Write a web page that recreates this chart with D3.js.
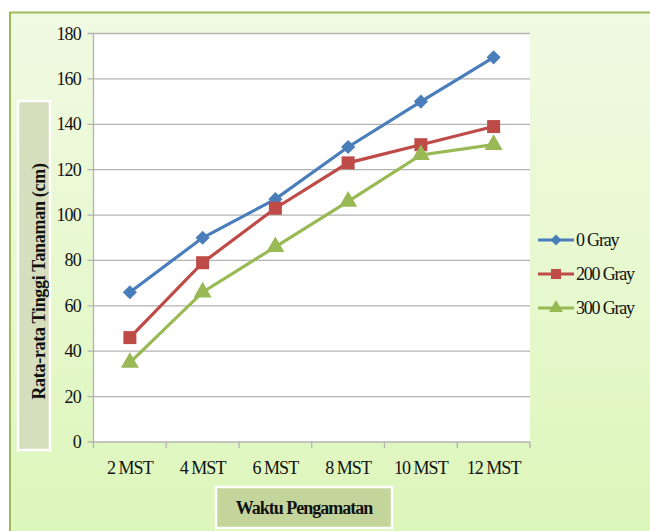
<!DOCTYPE html>
<html>
<head>
<meta charset="utf-8">
<script src="https://cdn.jsdelivr.net/npm/d3@7"></script>
<style>
  body { margin: 0; background: #fff; }
  svg text { font-family: "Liberation Serif", "Times New Roman", serif; }
</style>
</head>
<body>
<div id="chart"></div>
<script>
// Rata-rata tinggi tanaman per minggu
const categories = ["2 MST", "4 MST", "6 MST", "8 MST", "10 MST", "12 MST"];
const gray0 = [66, 90, 107, 130, 150, 169.5];
const gray200 = [46, 79, 103, 123, 131, 139];
const gray300 = [35, 66, 86, 106, 126.5, 131];
const seriesNames = ["0 Gray", "200 Gray", "300 Gray"];
const yTicks = [0, 20, 40, 60, 80, 100, 120, 140, 160, 180];

const W = 650, H = 531;
const plot = {left: 93.5, top: 33.5, right: 530, bottom: 442};

const svg = d3.select("#chart").append("svg")
  .attr("width", W).attr("height", H);

// background gradient
const defs = svg.append("defs");
const grad = defs.append("linearGradient").attr("id", "bg")
  .attr("x1", 0).attr("y1", 0).attr("x2", 0).attr("y2", 1);
grad.append("stop").attr("offset", "0%").attr("stop-color", "#f1fae3");
grad.append("stop").attr("offset", "100%").attr("stop-color", "#dcf6b9");

svg.append("rect")
  .attr("x", 10).attr("y", 12.5).attr("width", W + 10).attr("height", H + 10)
  .attr("fill", "url(#bg)")
  .attr("stroke", "#9bbb59").attr("stroke-width", 2);

const x = d3.scaleBand().domain(categories).range([plot.left, plot.right]);
const y = d3.scaleLinear().domain([0, 180]).range([plot.bottom, plot.top]);

// plot area
svg.append("rect")
  .attr("x", plot.left).attr("y", plot.top)
  .attr("width", plot.right - plot.left).attr("height", plot.bottom - plot.top)
  .attr("fill", "#fff");

// gridlines
svg.append("g").selectAll("line").data(yTicks).join("line")
  .attr("x1", plot.left - 6).attr("x2", plot.right)
  .attr("y1", d => y(d)).attr("y2", d => y(d))
  .attr("stroke", "#b3b3b3").attr("stroke-width", 1.3);

// y axis line
svg.append("line")
  .attr("x1", plot.left).attr("x2", plot.left)
  .attr("y1", plot.top).attr("y2", plot.bottom)
  .attr("stroke", "#b3b3b3").attr("stroke-width", 1.3);

// x axis ticks at category boundaries
const bounds = categories.map(c => x(c)).concat([plot.right]);
svg.append("g").selectAll("line").data(bounds).join("line")
  .attr("x1", d => d).attr("x2", d => d)
  .attr("y1", plot.bottom).attr("y2", plot.bottom + 6)
  .attr("stroke", "#b3b3b3").attr("stroke-width", 1.3);

// y tick labels
svg.append("g").selectAll("text").data(yTicks).join("text")
  .attr("x", 81).attr("y", d => y(d) + 6)
  .attr("text-anchor", "end")
  .style("font-size", "18px").style("fill", "#111")
  .style("letter-spacing", "-0.8px")
  .text(d => d);

// x tick labels
svg.append("g").selectAll("text").data(categories).join("text")
  .attr("x", d => x(d) + x.bandwidth() / 2).attr("y", 474)
  .attr("text-anchor", "middle")
  .style("font-size", "18px").style("fill", "#111")
  .style("letter-spacing", "-1px")
  .text(d => d);

// axis title boxes
svg.append("rect")
  .attr("x", 18).attr("y", 101).attr("width", 32).attr("height", 349)
  .attr("fill", "#d6dfbd").attr("stroke", "#fff").attr("stroke-width", 2.5);
svg.append("text")
  .attr("transform", `translate(45, ${(101 + 450) / 2 + 6}) rotate(-90)`)
  .attr("text-anchor", "middle")
  .style("font-size", "18px").style("font-weight", "bold").style("fill", "#111")
  .style("letter-spacing", "-0.3px")
  .text("Rata-rata Tinggi Tanaman (cm)");

svg.append("rect")
  .attr("x", 216).attr("y", 487).attr("width", 176).attr("height", 41)
  .attr("fill", "#c4d59c").attr("stroke", "#fff").attr("stroke-width", 2.5);
svg.append("text")
  .attr("x", 304).attr("y", 514)
  .attr("text-anchor", "middle")
  .style("font-size", "18px").style("font-weight", "bold").style("fill", "#111")
  .style("letter-spacing", "-1px")
  .text("Waktu Pengamatan");

// series (diamond = square rotated 45deg)
const series = [
  {name: seriesNames[0], values: gray0, color: "#4a7ebb", symbol: d3.symbolSquare, size: 100, rot: 45},
  {name: seriesNames[1], values: gray200, color: "#be4b48", symbol: d3.symbolSquare, size: 169, rot: 0},
  {name: seriesNames[2], values: gray300, color: "#98b954", symbol: d3.symbolTriangle, size: 140, rot: 0}
];

const line = d3.line()
  .x((d, i) => x(categories[i]) + x.bandwidth() / 2)
  .y(d => y(d));

series.forEach(s => {
  svg.append("path")
    .datum(s.values)
    .attr("d", line)
    .attr("fill", "none")
    .attr("stroke", s.color).attr("stroke-width", 3.2);

  svg.append("g").selectAll("path").data(s.values).join("path")
    .attr("transform", (d, i) => `translate(${x(categories[i]) + x.bandwidth() / 2}, ${y(d)}) rotate(${s.rot})`)
    .attr("d", d3.symbol().type(s.symbol).size(s.size))
    .attr("fill", s.color);
});

// legend
const legend = svg.append("g").attr("transform", "translate(538, 240)");
series.forEach((s, i) => {
  const g = legend.append("g").attr("transform", `translate(0, ${i * 34})`);
  g.append("line").attr("x1", 0).attr("x2", 36).attr("y1", 0).attr("y2", 0)
    .attr("stroke", s.color).attr("stroke-width", 3.2);
  g.append("path").attr("transform", `translate(18, 0) rotate(${s.rot})`)
    .attr("d", d3.symbol().type(s.symbol).size(s.size * 0.6))
    .attr("fill", s.color);
  g.append("text").attr("x", 38).attr("y", 6)
    .style("font-size", "18px").style("fill", "#111")
    .style("letter-spacing", "-1.2px")
    .text(s.name);
});
</script>
</body>
</html>
